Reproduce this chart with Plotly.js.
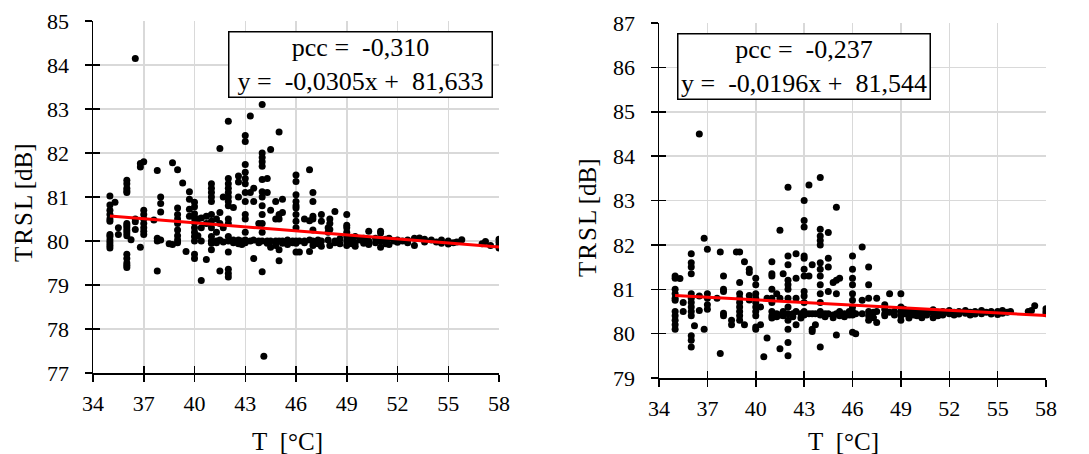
<!DOCTYPE html>
<html>
<head>
<meta charset="utf-8">
<script src="https://cdn.plot.ly/plotly-3.0.1.min.js"></script>
<style>html,body{margin:0;padding:0;background:#fff;}#chart{width:1089px;height:454px;}</style>
</head>
<body>
<div id="chart"></div>
<script>
// ---- Data ----
// Left panel: temperature columns and TRSL values measured at each
const leftT = [35, 35.3, 35.5, 36, 36.25, 36.5, 36.8, 37, 37.6, 37.8, 38, 38.5, 38.7, 39, 39.3, 39.5, 39.7, 40, 40.2, 40.4, 40.7, 41, 41.3, 41.5, 41.7, 42, 42.3, 42.6, 42.8, 43, 43.3, 43.5, 43.8, 44, 44.1, 44.3, 44.5, 44.8, 45, 45.2, 45.5, 45.8, 46, 46.2, 46.5, 46.8, 47, 47.3, 47.5, 47.9, 48, 48.3, 48.6, 49, 49.3, 49.5, 49.8, 50, 50.3, 50.7, 51, 51.3, 51.5, 51.8, 52, 52.3, 52.6, 53, 53.3, 53.6, 54, 54.3, 54.6, 55, 55.3, 55.5, 55.8, 57, 57.2, 57.5, 58];
const leftTRSL = [
  [81.02, 80.82, 80.7, 80.6, 80.5, 80.45, 80.15, 80.1, 80.02, 79.96, 79.9, 79.84],
  [80.88],
  [80.3, 80.15],
  [81.38, 81.3, 81.2, 81.14, 81.1, 80.4, 80.35, 80.3, 80.24, 80.18, 80.12, 79.7, 79.6, 79.5, 79.45, 79.4],
  [80.03],
  [84.15, 80.5, 80.44, 80.26],
  [81.76, 81.68, 79.86],
  [81.8, 80.7, 80.6, 80.5, 80.4, 80.3, 80.22, 80.15],
  [80.48],
  [81.6, 80.06, 80.0, 79.32],
  [81.0, 80.85, 80.66, 80.02],
  [79.94],
  [81.78, 79.92],
  [81.62, 80.75, 80.6, 80.5, 80.4, 80.25, 80.12, 80.02, 79.96],
  [81.32],
  [79.76],
  [81.12, 80.95, 80.72, 80.56],
  [80.88, 80.78, 80.62, 80.52, 80.42, 80.3, 80.2, 80.1, 80.0, 79.7, 79.6],
  [80.5, 80.12],
  [80.52, 80.3, 80.0, 79.1],
  [80.56, 80.4, 79.58],
  [81.3, 81.2, 81.1, 81.0, 80.9, 80.6, 80.45, 80.3, 80.1, 80.0, 79.95, 79.8],
  [80.5, 80.2, 80.0, 79.96],
  [82.1, 80.65, 80.4, 80.02, 79.32],
  [81.0, 80.3, 79.98],
  [82.72, 81.42, 81.3, 81.2, 81.1, 81.0, 80.9, 80.8, 80.5, 80.4, 80.1, 80.0, 79.75, 79.36, 79.26, 79.18],
  [80.76, 80.02, 79.96],
  [81.48, 81.34, 81.0, 80.02, 79.94],
  [80.0, 79.92],
  [82.4, 82.26, 81.74, 81.56, 81.42, 81.3, 81.1, 80.9, 80.6, 80.5, 80.2, 80.02, 79.96],
  [82.84, 81.1, 80.0],
  [81.2, 80.9, 80.02, 79.6],
  [80.4, 80.0, 79.96],
  [83.1, 82.0, 81.9, 81.8, 81.7, 81.4, 81.12, 81.0, 80.8, 80.6, 80.4, 80.2, 80.0, 79.3],
  [77.38],
  [81.42, 81.1, 80.0, 79.95],
  [82.08, 80.7, 80.0, 79.86],
  [80.9, 80.5, 80.0, 79.9],
  [82.48, 80.6, 80.5, 80.0, 79.8, 79.55],
  [80.95, 80.65, 80.0, 79.95],
  [80.02, 79.92],
  [80.0, 79.96],
  [81.5, 81.35, 81.05, 80.9, 80.8, 80.75, 80.6, 80.45, 80.3, 80.0, 79.95, 79.75],
  [80.0, 79.75],
  [80.5, 80.0, 79.96],
  [81.62, 80.46, 80.02, 79.76],
  [81.1, 80.9, 80.56, 80.5, 80.25, 80.0, 79.9],
  [80.02, 79.94],
  [80.6, 80.45, 80.0, 79.88],
  [80.3, 80.2, 80.02],
  [80.5, 80.4, 80.26, 79.9],
  [80.67, 80.0, 79.96],
  [80.05, 79.94],
  [80.6, 80.36, 80.3, 80.2, 80.1, 80.0, 79.9],
  [80.04, 79.94],
  [80.1, 79.96, 79.88],
  [80.02],
  [80.06, 79.95],
  [80.22, 80.0, 79.92],
  [80.06, 79.96],
  [80.22, 80.18, 80.0, 79.86],
  [80.04, 79.94],
  [80.06, 79.92],
  [80.0],
  [80.02, 79.97],
  [80.0],
  [80.02, 79.96],
  [80.06, 79.9],
  [80.07],
  [80.04, 79.98],
  [80.02],
  [79.98],
  [80.02, 79.95],
  [80.0, 79.93],
  [79.96],
  [79.98],
  [80.03],
  [79.94],
  [79.99],
  [79.9],
  [80.04, 79.97, 79.9, 79.84]
];

// Right panel
const rightT = [35, 35.3, 35.5, 36, 36.2, 36.5, 36.8, 37, 37.6, 37.8, 38, 38.5, 38.8, 39, 39.3, 39.6, 40, 40.3, 40.5, 40.7, 41, 41.3, 41.5, 41.7, 42, 42.3, 42.5, 42.8, 43, 43.3, 43.5, 43.7, 44, 44.3, 44.5, 44.8, 45, 45.2, 45.5, 45.8, 46, 46.2, 46.6, 47, 47.3, 47.5, 48, 48.3, 48.6, 49, 49.2, 49.5, 49.8, 50, 50.3, 50.6, 51, 51.3, 51.6, 52, 52.3, 52.6, 53, 53.3, 53.6, 54, 54.3, 54.6, 55, 55.3, 55.6, 55.8, 56.9, 57.1, 57.3, 58];
const rightTRSL = [
  [81.3, 81.25, 81.0, 80.9, 80.8, 80.75, 80.5, 80.4, 80.3, 80.2, 80.1],
  [81.24],
  [80.7, 80.5],
  [81.8, 81.6, 81.5, 81.35, 80.9, 80.8, 80.7, 80.6, 80.5, 80.4, 79.95, 79.85, 79.7],
  [80.18],
  [84.5, 80.85, 80.52],
  [82.15, 80.1],
  [81.9, 80.9, 80.8, 80.65, 80.55],
  [80.8],
  [81.84, 79.55],
  [81.3, 81.0, 80.95, 80.46, 80.4],
  [80.3, 80.2],
  [81.84],
  [81.84, 81.15, 80.9, 80.8, 80.7, 80.6, 80.5, 80.4, 80.3],
  [81.62, 80.2],
  [81.45, 81.38, 80.86, 80.76],
  [81.25, 81.1, 80.9, 80.8, 80.7, 80.6, 80.5, 80.4, 80.15, 80.1],
  [80.6, 80.2],
  [79.48],
  [80.8, 79.9],
  [81.62, 81.35, 81.3, 81.0, 80.8, 80.7, 80.5, 80.4, 80.35],
  [80.9, 80.45, 80.38],
  [82.33, 80.8, 80.42, 79.66],
  [81.35, 80.5, 80.4],
  [83.3, 81.75, 81.55, 81.2, 81.1, 81.0, 80.8, 80.6, 80.45, 80.3, 80.1, 79.8, 79.5],
  [80.45, 80.38],
  [81.8, 81.25, 80.8, 80.5, 80.2],
  [80.45, 80.35],
  [83.0, 82.55, 82.4, 81.75, 81.7, 81.45, 81.3, 80.95, 80.85, 80.7, 80.5, 80.42],
  [83.35, 81.3, 80.45],
  [81.55, 80.45, 80.1, 80.05],
  [80.45, 80.2],
  [83.52, 82.35, 82.2, 82.1, 82.0, 81.6, 81.45, 81.3, 81.1, 80.9, 80.7, 80.5, 80.42, 79.7],
  [80.45, 80.38],
  [82.28, 81.7, 81.5, 80.95, 80.45],
  [81.15, 80.42, 80.36],
  [82.85, 81.2, 80.9, 80.45, 79.97],
  [81.25, 80.5, 80.4],
  [80.45, 80.38],
  [80.5, 80.42],
  [81.75, 81.45, 81.25, 81.1, 80.9, 80.75, 80.6, 80.5, 80.42, 80.03],
  [80.45, 80.0],
  [81.95, 80.75, 80.45],
  [81.5, 81.1, 80.8, 80.5, 80.4, 80.3],
  [80.48, 80.36],
  [80.8, 80.5, 80.25],
  [80.65, 80.55, 80.45, 80.4],
  [80.9, 80.48],
  [80.5, 80.42],
  [80.9, 80.6, 80.5, 80.4, 80.3],
  [80.55, 80.45],
  [80.5, 80.4, 80.35],
  [80.52, 80.42],
  [80.5, 80.4],
  [80.48, 80.36],
  [80.5, 80.42],
  [80.54, 80.46, 80.36],
  [80.48, 80.4],
  [80.5, 80.42],
  [80.52, 80.45],
  [80.48, 80.42],
  [80.5, 80.44],
  [80.52, 80.46],
  [80.48, 80.42],
  [80.5, 80.44],
  [80.52, 80.45],
  [80.48],
  [80.5, 80.44],
  [80.5, 80.43],
  [80.52, 80.46],
  [80.48],
  [80.5],
  [80.5],
  [80.52],
  [80.63],
  [80.56, 80.5, 80.45]
];

const leftTrendT = [35, 58];
const leftTrendY = [80.566, 79.864];
const rightTrendT = [35, 58];
const rightTrendY = [80.858, 80.407];

const leftLabel = ["pcc =\u00a0 -0,310", "y =\u00a0 -0,0305x +\u00a0 81,633"];
const rightLabel = ["pcc =\u00a0 -0,237", "y =\u00a0 -0,0196x +\u00a0 81,544"];
const xTicks = [34, 37, 40, 43, 46, 49, 52, 55, 58];
const leftYTicks = [77, 78, 79, 80, 81, 82, 83, 84, 85];
const rightYTicks = [79, 80, 81, 82, 83, 84, 85, 86, 87];

// ---- Build ----
function expand(ts, vals) {
  const x = [], y = [];
  ts.forEach((t, i) => vals[i].forEach(v => { x.push(t); y.push(v); }));
  return {x, y};
}
const L = expand(leftT, leftTRSL);
const R = expand(rightT, rightTRSL);

const FONT = "Liberation Serif, Times New Roman, serif";
const marker = {color: '#000000', size: 7};

const traces = [
  {type: 'scatter', mode: 'markers', x: L.x, y: L.y, xaxis: 'x', yaxis: 'y', marker: marker},
  {type: 'scatter', mode: 'lines', x: leftTrendT, y: leftTrendY, xaxis: 'x', yaxis: 'y', line: {color: '#ff0000', width: 3}},
  {type: 'scatter', mode: 'markers', x: R.x, y: R.y, xaxis: 'x2', yaxis: 'y2', marker: marker},
  {type: 'scatter', mode: 'lines', x: rightTrendT, y: rightTrendY, xaxis: 'x2', yaxis: 'y2', line: {color: '#ff0000', width: 3}},
  // empty traces so the inner-tick overlay axes are drawn
  {type: 'scatter', mode: 'markers', x: [], y: [], xaxis: 'x3', yaxis: 'y'},
  {type: 'scatter', mode: 'markers', x: [], y: [], xaxis: 'x', yaxis: 'y3'},
  {type: 'scatter', mode: 'markers', x: [], y: [], xaxis: 'x4', yaxis: 'y2'},
  {type: 'scatter', mode: 'markers', x: [], y: [], xaxis: 'x2', yaxis: 'y4'}
];

function xAx(domain, anchor) {
  return {
    domain: domain, anchor: anchor, range: [34, 58], tickvals: xTicks, ticktext: xTicks.map(String),
    showgrid: true, gridcolor: '#d9d9d9', gridwidth: 1.5, zeroline: false,
    showline: true, linecolor: '#000000', linewidth: 1.5,
    ticks: 'outside', ticklen: 7, tickwidth: 1.5, tickcolor: '#000000',
    tickfont: {family: FONT, size: 22, color: '#000000'}, ticklabelstandoff: 3
  };
}
function yAx(domain, anchor, range, ticks) {
  return {
    domain: domain, anchor: anchor, range: range, tickvals: ticks, ticktext: ticks.map(String),
    showgrid: true, gridcolor: '#d9d9d9', gridwidth: 1.5, zeroline: false,
    showline: true, linecolor: '#000000', linewidth: 1.5,
    ticks: 'outside', ticklen: 7, tickwidth: 1.5, tickcolor: '#000000',
    tickfont: {family: FONT, size: 22, color: '#000000'}, ticklabelstandoff: 11
  };
}
function innerX(over, anchor, domain) {
  return {overlaying: over, anchor: anchor, domain: domain, range: [34, 58], tickvals: xTicks, showticklabels: false,
    showgrid: false, zeroline: false, showline: false, ticks: 'inside', ticklen: 7, tickwidth: 1.5, tickcolor: '#000000'};
}
function innerY(over, anchor, domain, range, ticks) {
  return {overlaying: over, anchor: anchor, domain: domain, range: range, tickvals: ticks, showticklabels: false,
    showgrid: false, zeroline: false, showline: false, ticks: 'inside', ticklen: 7, tickwidth: 1.5, tickcolor: '#000000'};
}

const W = 1089, H = 454;
const leftXD = [93 / W, 499 / W], leftYD = [(H - 373) / H, (H - 21) / H];
const rightXD = [659 / W, 1046 / W], rightYD = [(H - 378) / H, (H - 23) / H];

const annFont = {family: FONT, size: 26, color: '#000000'};
const titleFont = {family: FONT, size: 25, color: '#000000'};

const layout = {
  width: W, height: H, margin: {l: 0, r: 0, t: 0, b: 0},
  paper_bgcolor: '#ffffff', plot_bgcolor: '#ffffff', showlegend: false,
  xaxis: xAx(leftXD, 'y'), yaxis: yAx(leftYD, 'x', [77, 85], leftYTicks),
  xaxis2: xAx(rightXD, 'y2'), yaxis2: yAx(rightYD, 'x2', [79, 87], rightYTicks),
  xaxis3: innerX('x', 'y', leftXD), yaxis3: innerY('y', 'x', leftYD, [77, 85], leftYTicks),
  xaxis4: innerX('x2', 'y2', rightXD), yaxis4: innerY('y2', 'x2', rightYD, [79, 87], rightYTicks),
  annotations: [
    {xref: 'paper', yref: 'paper', x: 360.5 / W, y: 1 - 64.5 / H, xanchor: 'center', yanchor: 'middle',
     text: leftLabel.join('<br>'), showarrow: false, font: annFont, align: 'center',
     bordercolor: '#000000', borderwidth: 1.5, borderpad: 0, bgcolor: '#ffffff', width: 262, height: 64},
    {xref: 'paper', yref: 'paper', x: 804 / W, y: 1 - 66.5 / H, xanchor: 'center', yanchor: 'middle',
     text: rightLabel.join('<br>'), showarrow: false, font: annFont, align: 'center',
     bordercolor: '#000000', borderwidth: 1.5, borderpad: 0, bgcolor: '#ffffff', width: 251, height: 64},
    {xref: 'paper', yref: 'paper', x: 287 / W, y: 1 - 441 / H, xanchor: 'center', yanchor: 'middle',
     text: 'T\u00a0 [°C]', showarrow: false, font: titleFont},
    {xref: 'paper', yref: 'paper', x: 843 / W, y: 1 - 441 / H, xanchor: 'center', yanchor: 'middle',
     text: 'T\u00a0 [°C]', showarrow: false, font: titleFont},
    {xref: 'paper', yref: 'paper', x: 23 / W, y: 1 - 203 / H, xanchor: 'center', yanchor: 'middle',
     text: 'T\u200aR\u200aS\u200aL [dB]', textangle: -90, showarrow: false, font: titleFont},
    {xref: 'paper', yref: 'paper', x: 588 / W, y: 1 - 218 / H, xanchor: 'center', yanchor: 'middle',
     text: 'T\u200aR\u200aS\u200aL [dB]', textangle: -90, showarrow: false, font: titleFont}
  ]
};

Plotly.newPlot('chart', traces, layout, {staticPlot: true, displayModeBar: false});
</script>
</body>
</html>
